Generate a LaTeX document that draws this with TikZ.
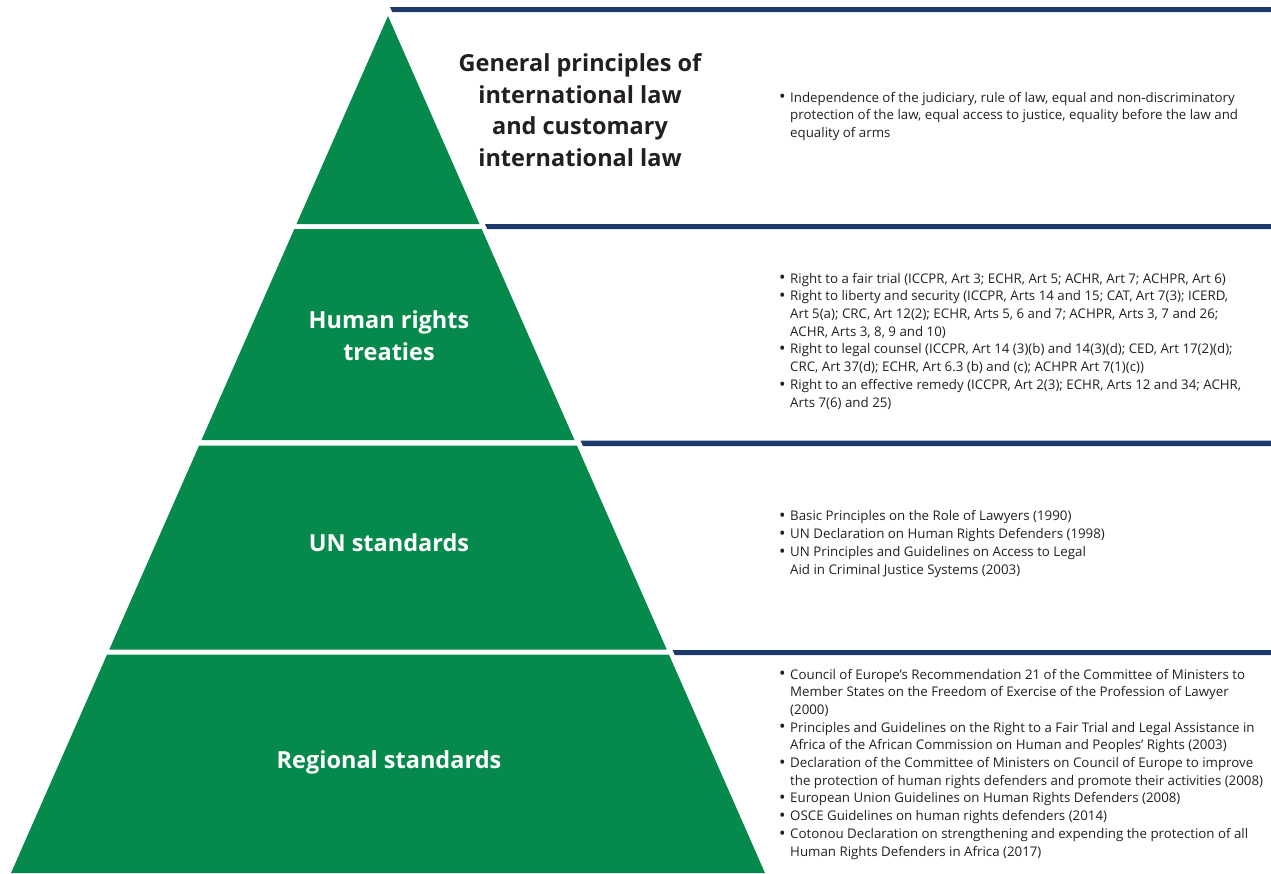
\documentclass[tikz,border=0pt]{standalone}
\usepackage{fontspec}
\usepackage{graphicx}
\setmainfont{Open Sans}
\usetikzlibrary{calc}
\definecolor{lawgreen}{RGB}{6,138,75}
\definecolor{lawnavy}{RGB}{28,58,108}
\definecolor{lawink}{RGB}{35,31,32}
\newcommand{\bul}{\makebox[11pt][l]{\raisebox{-0.8pt}{\scalebox{1.3}{\textbullet}}}}
\newcommand{\ind}{\hspace*{11pt}}

\begin{document}
\begin{tikzpicture}[x=1pt, y=-1pt,
    tier/.style={fill=lawgreen},
    rule/.style={fill=lawnavy},
    heading/.style={text=lawink, font=\bfseries\fontsize{23.5}{31.5}\selectfont, align=center, inner sep=0pt, anchor=base},
    tiername/.style={text=white, font=\bfseries\fontsize{23.5}{31.5}\selectfont, align=center, inner sep=0pt, anchor=base},
    items/.style={text=lawink, font=\fontsize{13.3}{17.7}\selectfont, align=left, inner sep=0pt, anchor=base west}]
        \useasboundingbox (0,0) rectangle (1271,873);

        % pyramid
        \fill[tier] (388,16) -- (479.5,224) -- (296.5,224) -- cycle;
        \fill[tier] (294.3,229) -- (481.7,229) -- (574.5,440) -- (201.5,440) -- cycle;
        \fill[tier] (199.1,445.5) -- (576.9,445.5) -- (666.7,649.5) -- (109.3,649.5) -- cycle;
        \fill[tier] (107.1,654.5) -- (668.9,654.5) -- (765,873) -- (11,873) -- cycle;

        % rules
        \fill[rule] (390,7) -- (1271,7) -- (1271,12) -- (392.2,12) -- cycle;
        \fill[rule] (485,224) -- (1271,224) -- (1271,229) -- (487.2,229) -- cycle;
        \fill[rule] (580.5,440.5) -- (1271,440.5) -- (1271,446) -- (583,446) -- cycle;
        \fill[rule] (672.5,650) -- (1271,650) -- (1271,655) -- (674.8,655) -- cycle;

        % base anchor = baseline of the last line
        \node[heading] (gen) at (580,166) {General principles of\\international law\\and customary\\international law};
        \node[tiername] (hrt) at (389,360) {Human rights\\treaties};
        \node[tiername] (uns) at (389,551) {UN standards};
        \node[tiername] (reg) at (389,768) {Regional standards};

        \node[items] (genlist) at (779,137.4) {\bul Independence of the judiciary, rule of law, equal and non-discriminatory\\
            \ind protection of the law, equal access to justice, equality before the law and\\
            \ind equality of arms};
        \node[items] (hrtlist) at (779,407) {\bul Right to a fair trial (ICCPR, Art 3; ECHR, Art 5; ACHR, Art 7; ACHPR, Art 6)\\
            \bul Right to liberty and security (ICCPR, Arts 14 and 15; CAT, Art 7(3); ICERD,\\
            \ind Art 5(a); CRC, Art 12(2); ECHR, Arts 5, 6 and 7; ACHPR, Arts 3, 7 and 26;\\
            \ind ACHR, Arts 3, 8, 9 and 10)\\
            \bul Right to legal counsel (ICCPR, Art 14 (3)(b) and 14(3)(d); CED, Art 17(2)(d);\\
            \ind CRC, Art 37(d); ECHR, Art 6.3 (b) and (c); ACHPR Art 7(1)(c))\\
            \bul Right to an effective remedy (ICCPR, Art 2(3); ECHR, Arts 12 and 34; ACHR,\\
            \ind Arts 7(6) and 25)};
        \node[items] (unslist) at (779,574) {\bul Basic Principles on the Role of Lawyers (1990)\\
            \bul UN Declaration on Human Rights Defenders (1998)\\
            \bul UN Principles and Guidelines on Access to Legal\\
            \ind Aid in Criminal Justice Systems (2003)};
        \node[items] (reglist) at (779,856) {\bul Council of Europe’s Recommendation 21 of the Committee of Ministers to\\
            \ind Member States on the Freedom of Exercise of the Profession of Lawyer\\
            \ind (2000)\\
            \bul Principles and Guidelines on the Right to a Fair Trial and Legal Assistance in\\
            \ind Africa of the African Commission on Human and Peoples’ Rights (2003)\\
            \bul Declaration of the Committee of Ministers on Council of Europe to improve\\
            \ind the protection of human rights defenders and promote their activities (2008)\\
            \bul European Union Guidelines on Human Rights Defenders (2008)\\
            \bul OSCE Guidelines on human rights defenders (2014)\\
            \bul Cotonou Declaration on strengthening and expending the protection of all\\
            \ind Human Rights Defenders in Africa (2017)};
\end{tikzpicture}
\end{document}
